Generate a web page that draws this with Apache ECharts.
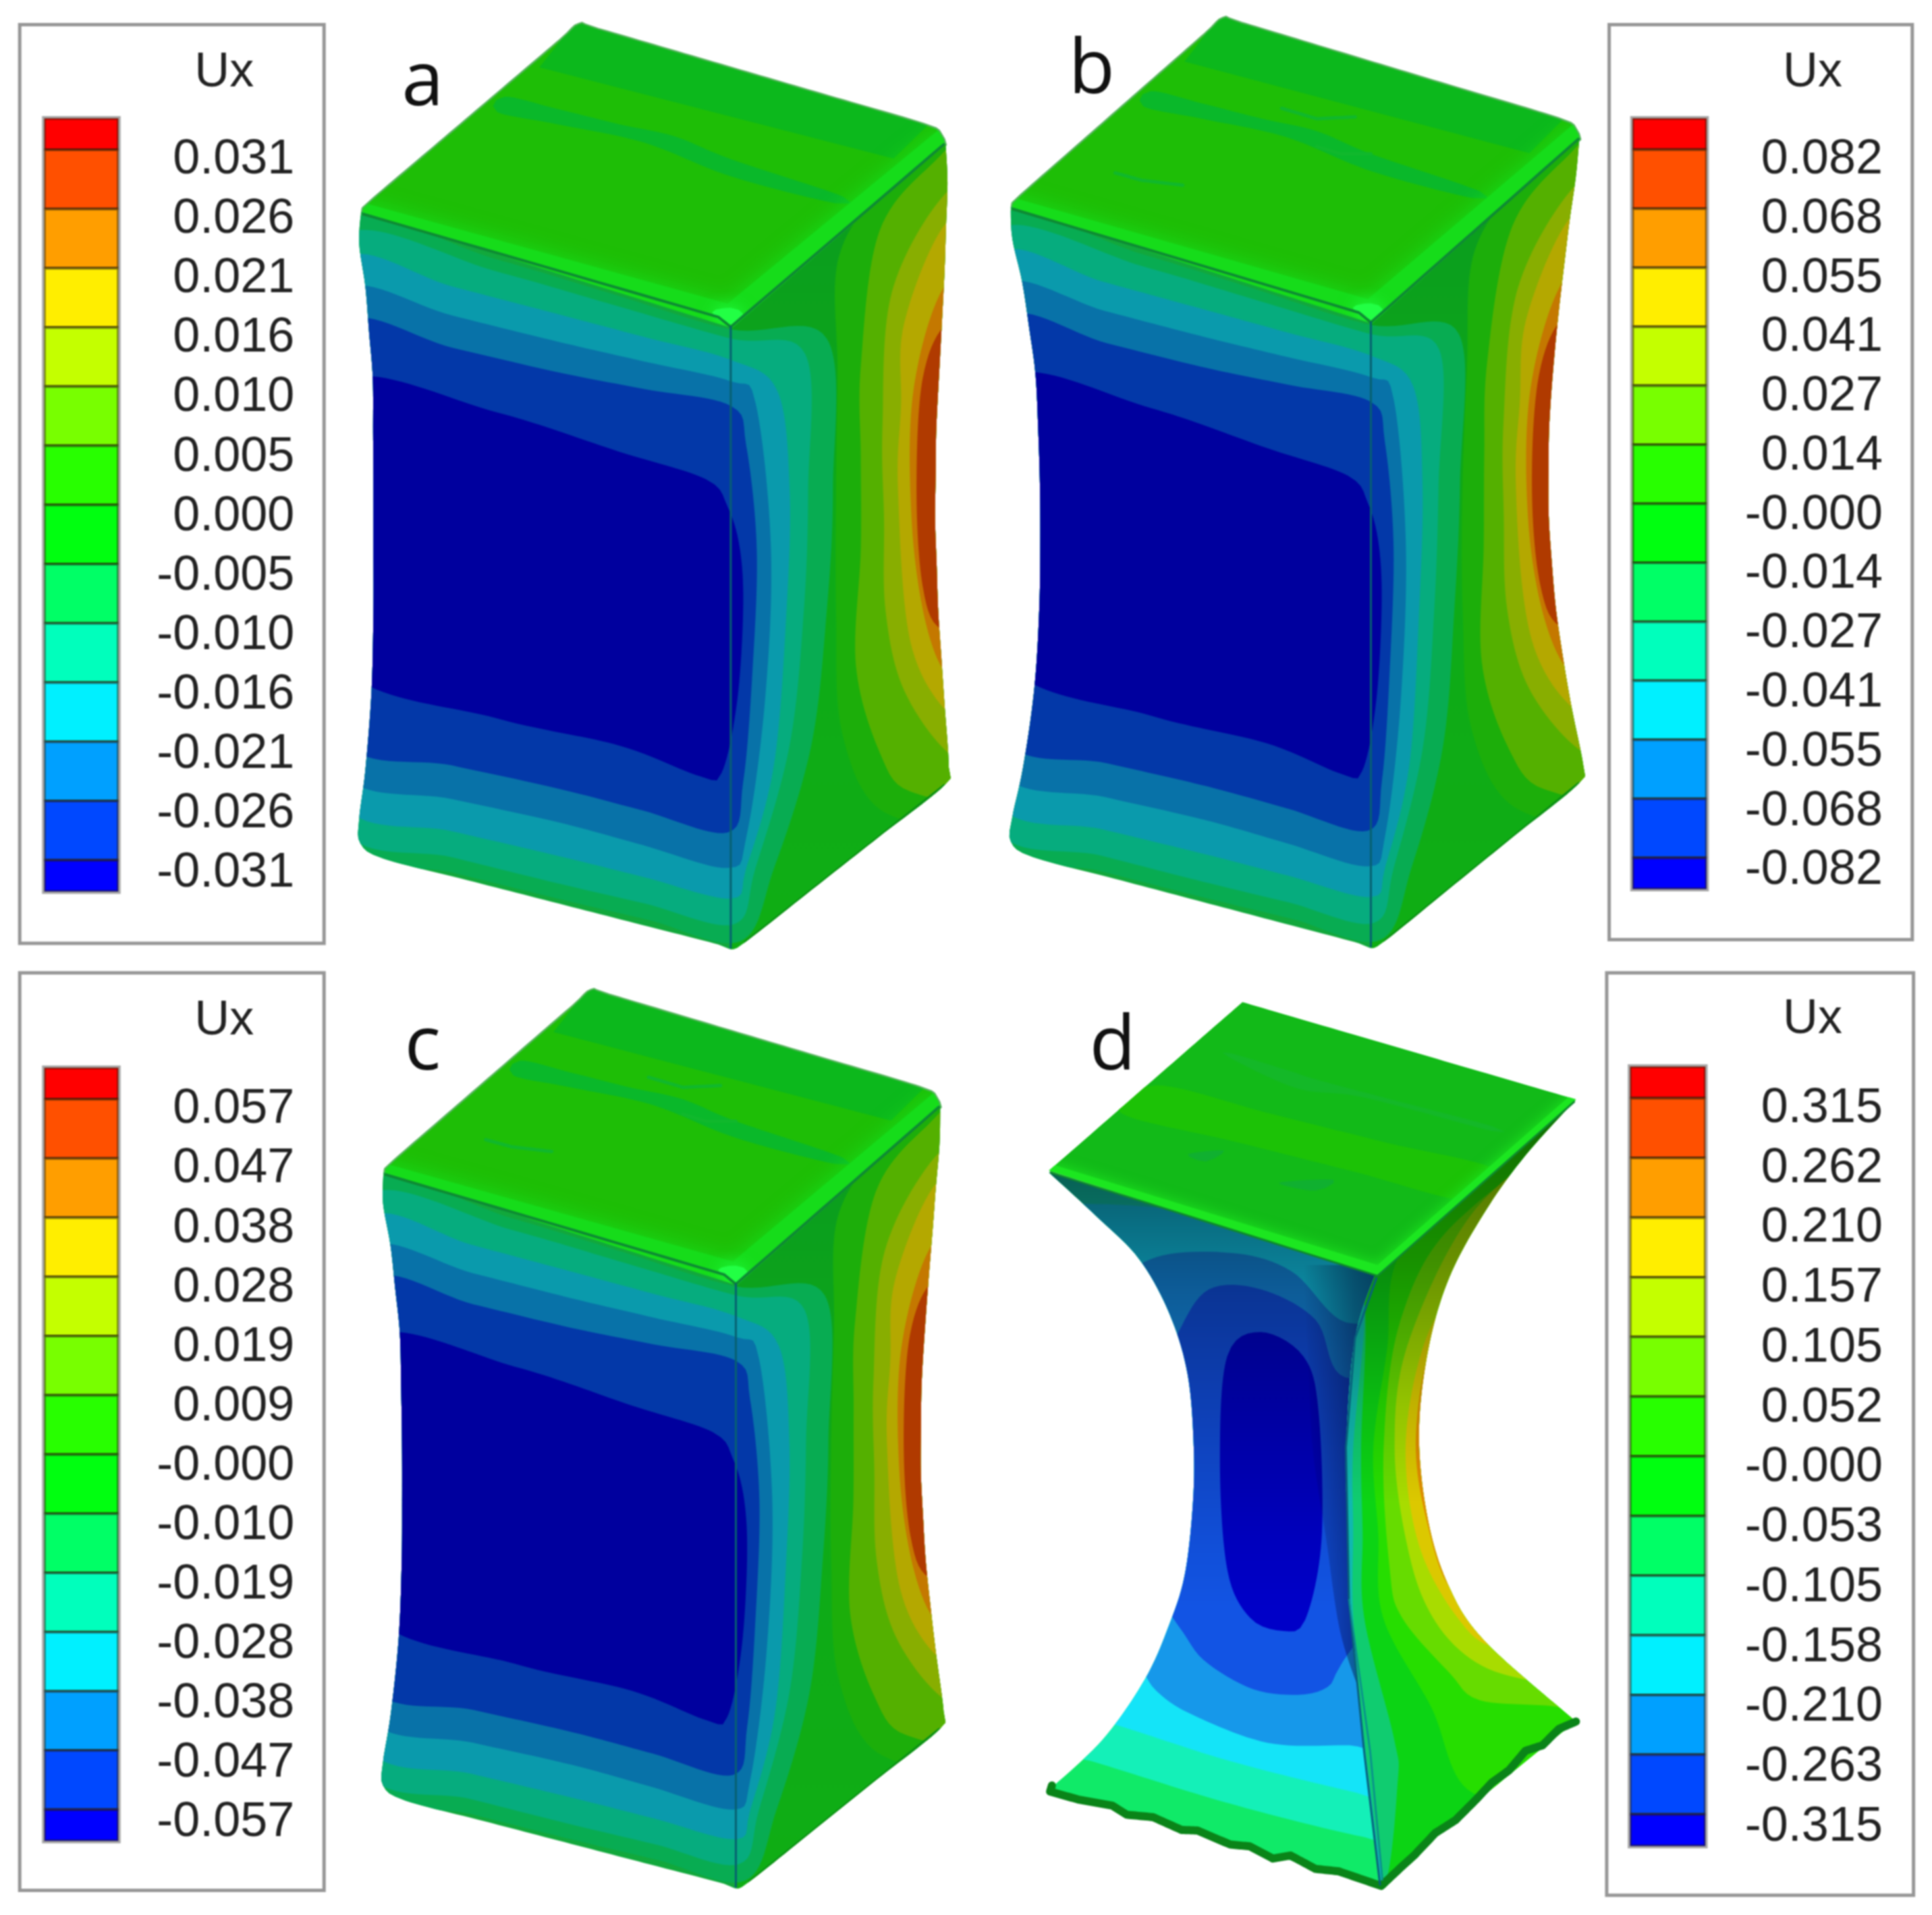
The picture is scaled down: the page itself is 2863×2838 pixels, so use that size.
<!DOCTYPE html>
<html><head><meta charset="utf-8">
<style>html,body{margin:0;padding:0;background:#fff}#c{width:2863px;height:2838px;filter:blur(1px)}</style>
<script src="https://cdn.jsdelivr.net/npm/echarts@6/dist/echarts.min.js"></script>
</head><body><div id="c"></div>
<script>
// ---------- legend data ----------
const title = 'Ux';
const ticksA = ['0.031','0.026','0.021','0.016','0.010','0.005','0.000','-0.005','-0.010','-0.016','-0.021','-0.026','-0.031'];
const ticksB = ['0.082','0.068','0.055','0.041','0.027','0.014','-0.000','-0.014','-0.027','-0.041','-0.055','-0.068','-0.082'];
const ticksC = ['0.057','0.047','0.038','0.028','0.019','0.009','-0.000','-0.010','-0.019','-0.028','-0.038','-0.047','-0.057'];
const ticksD = ['0.315','0.262','0.210','0.157','0.105','0.052','-0.000','-0.053','-0.105','-0.158','-0.210','-0.263','-0.315'];
const bandColors = ['#ff0000','#ff5000','#ff9e00','#ffee00','#c4ff00','#78ff00','#28ff00','#00ff10','#00ff66','#00ffbc','#00f0ff','#00a0ff','#0048ff','#0000ff'];

// ---------- traced outlines of the stubby block (panels a, b, c); a third element marks a sharp corner ----------
const blockTop = [[587,352,1],[586,345],[600,330],[905,68],[935,42],[965,50],[1490,205],[1518,220],[1526,238,1],[1184,542,1]];
const blockBody = [[583,348,1],[580,400],[590,470],[602,620],[603,800],[603,1000],[600,1130],[590,1260],[580,1340],[582,1380],[620,1405],[1160,1545],[1180,1553],[1205,1540],[1525,1285],[1532,1255],[1525,1150],[1515,1000],[1510,850],[1512,700],[1525,450],[1530,300],[1527,238,1],[1182,538,1]];
const blockFront = [[560,330,1],[1180,520,1],[1180,1600,1],[560,1600,1]];
const blockRight = [[1180,520,1],[1600,180,1],[1600,1600,1],[1180,1600,1]];
const blockBack = [[935,30,1],[1510,195,1],[1443,261,1],[871,112,1]];
const blockStrip = [[815,160],[900,180],[1000,205],[1090,225],[1180,262],[1361,323],[1349,334],[1180,290],[1040,235],[900,205],[803,185]];
const blockRim = [[575,330],[1175,498],[1518,212],[1540,240],[1182,550],[575,365]];
const blockGlow = [[1150,512],[1180,505],[1200,515],[1180,535]];
const blockMarks = [[[756,293],[800,305],[868,313]],[[1032,188],[1090,205],[1154,202]],[[1090,250],[1130,262],[1180,262]]];
const blockRightLevels = [
  [[1440,300],[1355,420],[1350,800],[1350,1000],[1360,1200],[1430,1330],[1600,1330],[1600,200]],
  [[1510,265],[1420,380],[1390,600],[1390,900],[1382,1088],[1420,1230],[1470,1295],[1600,1295],[1600,200]],
  [[1525,320],[1440,480],[1425,700],[1430,1000],[1460,1130],[1535,1235],[1600,1235],[1600,300]],
  [[1525,370],[1460,530],[1450,800],[1470,1050],[1535,1170],[1600,1170],[1600,350]],
  [[1525,470],[1475,640],[1472,850],[1495,1020],[1535,1110],[1600,1110],[1600,450]],
  [[1530,530],[1490,620],[1480,800],[1490,960],[1520,1030],[1600,1030],[1600,530]]
];
const blockBlueLevels = [
  [[560,362],[800,425],[1180,540],[1335,555],[1345,800],[1335,1000],[1310,1220],[1250,1420],[1195,1540],[900,1470],[560,1385]],
  [[560,385],[800,445],[1180,555],[1300,580],[1305,800],[1298,1000],[1275,1220],[1220,1420],[1185,1512],[900,1445],[560,1360]],
  [[560,425],[900,515],[1180,590],[1255,640],[1275,800],[1270,1000],[1250,1250],[1205,1420],[1180,1470],[900,1400],[560,1320]],
  [[560,475],[900,560],[1180,625],[1220,660],[1245,900],[1235,1150],[1205,1370],[1175,1420],[900,1345],[560,1270]],
  [[560,530],[900,610],[1180,665],[1205,730],[1222,900],[1215,1100],[1200,1280],[1175,1362],[900,1290],[560,1215]],
  [[560,625],[800,675],[1000,740],[1140,785],[1175,830],[1195,900],[1200,1000],[1190,1150],[1165,1265],[1130,1270],[1000,1220],[800,1175],[560,1095]]
];
const blockEdgeTop = [[587,352],[1160,520],[1180,536],[1524,238]];
const blockEdgeFront = [[1180,536],[1180,1550]];
const blockEdgeFoot = [[1205,1542],[1525,1287]];

// ---------- traced outlines of the necked block (panel d) ----------
const neckTop = [[122,345,1],[440,68,1],[988,228,1],[662,518,1]];
const neckBody = [[122,348,1],[200,420],[270,490],[320,580],[350,680],[360,800],[358,900],[345,1010],[320,1090],[280,1180],[210,1280],[119,1365,1],[226,1392],[366,1435],[519,1478],[600,1500],[668,1524,1],[757,1436],[824,1382],[933,1293],[988,1250,1],[840,1120],[780,1030],[745,920],[730,780],[745,640],[780,520],[840,410],[905,320],[988,228,1],[662,518,1]];
const neckFront = [[100,300,1],[662,505,1],[625,620],[610,800],[615,1050],[640,1300],[668,1530,1],[100,1530,1]];
const neckRight = [[662,505,1],[1000,200,1],[1000,1530,1],[668,1530,1],[640,1300],[615,1050],[610,800],[625,620]];
const neckStrips = [
  [[300,205],[860,345],[815,395],[240,250]],
  [[420,152],[520,182],[560,195],[850,272],[850,280],[640,225],[530,210],[420,160]],
  [[350,318],[410,312],[380,330]],
  [[500,365],[590,360],[560,378]]
];
const neckRim = [[118,332,1],[662,500,1],[985,216,1],[995,234,1],[668,530,1],[118,354,1]];
const neckFoot = [[127,1355],[124,1365],[170,1378],[226,1388],[250,1403],[293,1407],[340,1428],[366,1429],[420,1452],[452,1455],[490,1475],[519,1470],[560,1492],[598,1496],[668,1520],[702,1488],[722,1470],[757,1433],[790,1412],[824,1378],[850,1350],[878,1330],[905,1298],[933,1289],[960,1262],[988,1250]];
const neckFrontLevels = [
  [[100,1290],[192,1315],[420,1385],[641,1440],[700,1440],[700,300],[100,300]],
  [[100,1225],[220,1252],[420,1315],[628,1367],[700,1380],[700,540],[660,520],[400,420],[200,400],[100,420]],
  [[230,1120],[275,1167],[299,1200],[354,1237],[482,1285],[616,1289],[700,1290],[700,620],[600,590],[520,510],[420,480],[290,490],[230,560]],
  [[300,1020],[348,1112],[385,1156],[458,1197],[531,1206],[580,1193],[604,1153],[700,1000],[700,700],[600,680],[560,590],[470,540],[385,540],[335,610],[300,700]],
  [[415,650],[470,610],[540,650],[565,740],[570,950],[543,1083],[506,1101],[452,1079],[415,1000],[403,820]]
];
const neckGreen = [[700,480],[655,800],[671,1079],[750,1226],[818,1367],[1000,1367],[1000,200]];
const neckRightLevels = [
  [[640,560],[635,800],[640,1079],[689,1278],[695,1350],[670,1530],[600,1530],[590,560]],
  [[640,560],[622,800],[622,1079],[640,1278],[655,1400],[665,1530],[600,1530],[590,560]]
];
const neckLimeLevels = [
  [[790,430],[700,590],[672,800],[682,1000],[702,1079],[781,1171],[830,1215],[958,1226],[1000,1250],[1000,300]],
  [[830,400],[715,620],[690,800],[715,980],[757,1086],[824,1153],[909,1182],[1000,1190],[1000,300]],
  [[850,400],[735,640],[708,800],[730,960],[793,1079],[860,1130],[1000,1130],[1000,300]],
  [[870,400],[760,600],[725,780],[745,930],[790,1040],[880,1040],[900,400]]
];
const neckEdge = [[125,348],[662,518],[985,232]];
const neckEdgeFront = [[660,522],[625,620],[610,800],[615,1050],[640,1300],[666,1518]];
const neckEdgeInner = [[615,1050],[650,1300],[670,1510]];
const neckShadeEdge = [[540,500,1],[660,500,1],[620,800],[626,1050],[632,1200,1],[600,1100],[555,800]];

// ---------- colours of the contour levels ----------
const blueColors = ['#08ac52','#06ac7e','#0a9aac','#0872a8','#0338a8','#00009e'];
const redColors = ['#1cae0a','#54b000','#88ae00','#b4a800','#c47800','#b03a00'];
const neckFrontColors = ['#14f0b8','#14e4f8','#1698ea','#1254e4','#0000c8'];
const neckFrontBase = '#10ea68';
const neckRightColors = ['#10cc70','#10b8b0'];
const neckLimeColors = ['#66dc00','#a8dc00','#dcc800','#e08c00'];

// ---------- layout (in the axes' units) ----------
const panels = [
  {name:'a',letter:[343,68],ticks:ticksA,box:[16,20,263,765],bar:[36,96,96,723],titleXY:[182,58],right:239,
   block:{x0:0,sx:.5026,y0:-1,sy:.4964,kL:0,kR:0}},
  {name:'b',letter:[886,58],ticks:ticksB,box:[1306,20,1552,762],bar:[1325,1385,96,721],titleXY:[1471,58],right:1528,
   block:{x0:535,sx:.4895,y0:-6,sy:.499,kL:30,kR:38,marks:true}},
  {name:'c',letter:[343,850],ticks:ticksC,box:[16,789,263,1533],bar:[36,96,866,1493],titleXY:[182,827],right:239,
   block:{x0:32,sx:.479,y0:783,sy:.482,kL:12,kR:18,marks:true}},
  {name:'d',letter:[903,850],ticks:ticksD,box:[1304,789,1553,1537],bar:[1323,1384,865,1497],titleXY:[1471,826],right:1528,
   neck:{x0:791,sx:.494,y0:779,sy:.4937}}
];

// ---------- geometry helpers ----------
function densify(pts, step){
  const out=[];
  for(let i=0;i<pts.length;i++){
    const a=pts[i],b=pts[(i+1)%pts.length];
    const n=Math.max(1,Math.ceil(Math.hypot(b[0]-a[0],b[1]-a[1])/step));
    for(let k=0;k<n;k++){
      const q=[a[0]+(b[0]-a[0])*k/n,a[1]+(b[1]-a[1])*k/n];
      if(k===0&&a[2]) q.push(1);
      out.push(q);
    }
  }
  return out;
}
function spline(pts){
  const n=pts.length,out=[];
  for(let i=0;i<n;i++){
    const p1=pts[i],p2=pts[(i+1)%n];
    const p0=p1[2]?p1:pts[(i-1+n)%n];
    const p3=p2[2]?p2:pts[(i+2)%n];
    const m=Math.max(2,Math.ceil(Math.hypot(p2[0]-p1[0],p2[1]-p1[1])/12));
    for(let k=0;k<m;k++){
      const t=k/m,t2=t*t,t3=t2*t;
      const f=j=>.5*(2*p1[j]+(p2[j]-p0[j])*t+(2*p0[j]-5*p1[j]+4*p2[j]-p3[j])*t2+(3*p1[j]-p0[j]-3*p2[j]+p3[j])*t3);
      out.push([f(0),f(1)]);
    }
  }
  return out;
}
function curve(pts){return spline(densify(pts,260));}
function pinch(p,g){
  const x=p[0],y=p[1];
  let top,bot;
  if(x<1180){top=350+(x-580)*.3;bot=1390+(x-580)*.27;}
  else{top=530-(x-1180)*.87;bot=1550-(x-1180)*.84;}
  const t=(y-top)/(bot-top);
  const f=Math.max(0,Math.min(1,4*t*(1-t)));
  const dx=x<1180?g.kL*f*(1180-x)/600:-g.kR*f*(x-1180)/345;
  return [x+dx,y];
}
function project(api,g,pts,warp){
  return pts.map(p=>{
    const q=warp?pinch(p,g):p;
    return api.coord([g.x0+g.sx*q[0],g.y0+g.sy*q[1]]);
  });
}
function poly(api,g,pts,warp,fill,extra){
  return {type:'polygon',shape:{points:project(api,g,pts,warp)},style:Object.assign({fill},extra||{})};
}
function line(api,g,pts,stroke,w,warp){
  const dense=[];
  for(let i=0;i<pts.length-1;i++){
    const n=12;
    for(let k=0;k<n;k++) dense.push([pts[i][0]+(pts[i+1][0]-pts[i][0])*k/n,pts[i][1]+(pts[i+1][1]-pts[i][1])*k/n]);
  }
  dense.push(pts[pts.length-1]);
  return {type:'polyline',shape:{points:project(api,g,dense,warp)},style:{fill:null,stroke,lineWidth:w,lineJoin:'round',lineCap:'round'}};
}
const LG=echarts.graphic.LinearGradient;

function renderBlock(api,g){
  const bodyPts=project(api,g,spline(densify(blockBody,150)),true);
  const kids=[];
  kids.push(poly(api,g,densify(blockFront,30),true,'#12a83c'));
  kids.push(poly(api,g,densify(blockRight,30),true,new LG(0,0,0,1,[{offset:0,color:'#0a9a20'},{offset:.5,color:'#0eaa18'},{offset:1,color:'#10ae14'}])));
  blockRightLevels.forEach((l,i)=>kids.push(poly(api,g,curve(l),true,redColors[i])));
  blockBlueLevels.forEach((l,i)=>kids.push(poly(api,g,curve(l),true,blueColors[i])));
  const edges=[line(api,g,blockEdgeFoot,'#0c9016',7,true)];
  const bodyGroup={type:'group',clipPath:{type:'polygon',shape:{points:bodyPts}},children:kids.concat(edges)};
  const topOutline=spline(densify(blockTop,200));
  const topKids=[
    poly(api,g,topOutline,false,'#1ebe06'),
    poly(api,g,blockBack,false,'#0cb81c'),
    poly(api,g,curve(blockStrip),false,'#0ab82a')
  ];
  if(g.marks) blockMarks.forEach(m=>topKids.push(line(api,g,m,'#10b82c',5)));
  topKids.push(poly(api,g,blockRim,false,'#16dc1a',{shadowBlur:30,shadowColor:'#16dc1a'}));
  topKids.push(poly(api,g,curve(blockGlow),false,'#22ff44',{shadowBlur:24,shadowColor:'#22ff44'}));
  const topGroup={type:'group',clipPath:{type:'polygon',shape:{points:project(api,g,topOutline,false)}},children:topKids};
  const topStroke={type:'polygon',shape:{points:project(api,g,topOutline,false)},style:{fill:null,stroke:'rgba(14,150,24,.7)',lineWidth:5}};
  return {type:'group',children:[topStroke,topGroup,bodyGroup,
    line(api,g,blockEdgeTop,'#0e8a34',4),line(api,g,blockEdgeFront,'#076070',3)]};
}
function renderNeck(api,g){
  const bodyPts=project(api,g,spline(densify(neckBody,200)),false);
  const frontOutline=spline(densify(neckFront,200));
  const rightOutline=spline(densify(neckRight,200));
  const fk=[poly(api,g,frontOutline,false,neckFrontBase)];
  neckFrontLevels.forEach((l,i)=>fk.push(poly(api,g,curve(l),false,neckFrontColors[i])));
  const shade=poly(api,g,frontOutline,false,new LG(0,0,0,1,[{offset:0,color:'rgba(0,10,20,.68)'},{offset:.2,color:'rgba(0,10,40,.42)'},{offset:.4,color:'rgba(0,0,40,.2)'},{offset:.55,color:'rgba(0,0,40,.05)'},{offset:.62,color:'rgba(0,0,0,0)'}]));
  const shade2=poly(api,g,spline(densify(neckShadeEdge,200)),false,new LG(0,0,1,0,[{offset:0,color:'rgba(0,0,40,0)'},{offset:.7,color:'rgba(0,0,40,.4)'},{offset:1,color:'rgba(0,0,40,.5)'}]));
  const fGroup={type:'group',clipPath:{type:'polygon',shape:{points:project(api,g,frontOutline,false)}},children:fk.concat([shade,shade2])};
  const rk=[poly(api,g,rightOutline,false,'#0cd414'),poly(api,g,curve(neckGreen),false,'#26de00')];
  neckLimeLevels.forEach((l,i)=>rk.push(poly(api,g,curve(l),false,neckLimeColors[i])));
  neckRightLevels.forEach((l,i)=>rk.push(poly(api,g,curve(l),false,neckRightColors[i])));
  rk.push(poly(api,g,rightOutline,false,new LG(0,0,0,1,[{offset:0,color:'rgba(0,20,0,.6)'},{offset:.22,color:'rgba(0,20,0,.38)'},{offset:.4,color:'rgba(0,20,0,.12)'},{offset:.52,color:'rgba(0,0,0,0)'}])));
  const rGroup={type:'group',clipPath:{type:'polygon',shape:{points:project(api,g,rightOutline,false)}},children:rk};
  const foot=line(api,g,neckFoot,'#0a8418',12);
  const bodyGroup={type:'group',clipPath:{type:'polygon',shape:{points:bodyPts}},children:[fGroup,rGroup]};
  const topPts=spline(densify(neckTop,200));
  const topKids=[
    poly(api,g,topPts,false,'#12ba18'),
    poly(api,g,curve(neckStrips[0]),false,'#1cc206'),
    poly(api,g,curve(neckStrips[1]),false,'#14b828'),
    poly(api,g,curve(neckStrips[2]),false,'#10b030'),
    poly(api,g,curve(neckStrips[3]),false,'#10b030'),
    poly(api,g,neckRim,false,'#1ce620',{shadowBlur:20,shadowColor:'#1ce620'})
  ];
  const topGroup={type:'group',clipPath:{type:'polygon',shape:{points:project(api,g,topPts,false)}},children:topKids};
  return {type:'group',children:[bodyGroup,foot,topGroup,
    line(api,g,neckEdge,'#0e8a2c',3),line(api,g,neckEdgeFront,'#08607c',3),line(api,g,neckEdgeInner,'#0a8a90',2.5)]};
}
function renderLegend(api,p){
  const c=(x,y)=>api.coord([x,y]);
  const kids=[];
  const b0=c(p.box[0],p.box[1]),b1=c(p.box[2],p.box[3]);
  kids.push({type:'rect',shape:{x:b0[0],y:b0[1],width:b1[0]-b0[0],height:b1[1]-b0[1]},style:{fill:'#fff',stroke:'#969696',lineWidth:5}});
  const [bx0,bx1,by0,by1]=p.bar;
  const n=p.ticks.length;
  const unit=(by1-by0)/(n+0.06);
  const first=unit*0.53;
  const edge=i=>by0+first+i*unit;
  bandColors.forEach((col,i)=>{
    const yt=i===0?by0:edge(i-1), yb=i===bandColors.length-1?by1:edge(i);
    const a=c(bx0,yt),d=c(bx1,yb);
    kids.push({type:'rect',shape:{x:a[0],y:a[1],width:d[0]-a[0],height:d[1]-a[1]},style:{fill:col,stroke:'rgba(40,30,10,.55)',lineWidth:4}});
  });
  const a0=c(bx0,by0),a1=c(bx1,by1);
  kids.push({type:'rect',shape:{x:a0[0]-2,y:a0[1]-2,width:a1[0]-a0[0]+4,height:a1[1]-a0[1]+4},style:{fill:null,stroke:'#a8a8a8',lineWidth:3}});
  p.ticks.forEach((t,i)=>{
    const q=c(p.right,by0+first+8.5+i*unit*1.0035);
    kids.push({type:'text',x:q[0],y:q[1],style:{text:t,x:0,y:0,fill:'#222',font:'72px "Liberation Sans", Arial, sans-serif',align:'right',verticalAlign:'middle'}});
  });
  const tq=c(p.titleXY[0],p.titleXY[1]+1);
  kids.push({type:'text',x:tq[0],y:tq[1],style:{text:title,x:0,y:0,fill:'#222',font:'72px "Liberation Sans", Arial, sans-serif',align:'center',verticalAlign:'middle'}});
  const lq=c(p.letter[0],p.letter[1]);
  kids.push({type:'text',x:lq[0],y:lq[1],style:{text:p.name,x:0,y:0,fill:'#111',font:'112px "Open Sans", sans-serif',align:'center',verticalAlign:'middle'}});
  return {type:'group',children:kids};
}

const chart=echarts.init(document.getElementById('c'),null,{renderer:'canvas',width:2863,height:2838});
chart.setOption({
  animation:false,
  backgroundColor:'#fff',
  grid:{left:0,right:0,top:0,bottom:0},
  xAxis:{type:'value',min:0,max:1568,show:false},
  yAxis:{type:'value',min:0,max:1553,inverse:true,show:false},
  series:[
    {type:'custom',name:'Ux field',coordinateSystem:'cartesian2d',clip:false,silent:true,
     data:panels.map((p,i)=>[i]),encode:{x:0,y:0},
     renderItem:(params,api)=>{const p=panels[params.dataIndex];return p.block?renderBlock(api,p.block):renderNeck(api,p.neck);}},
    {type:'custom',name:'Ux legend',coordinateSystem:'cartesian2d',clip:false,silent:true,
     data:panels.map((p,i)=>[i]),encode:{x:0,y:0},
     renderItem:(params,api)=>renderLegend(api,panels[params.dataIndex])}
  ]
});
</script></body></html>
